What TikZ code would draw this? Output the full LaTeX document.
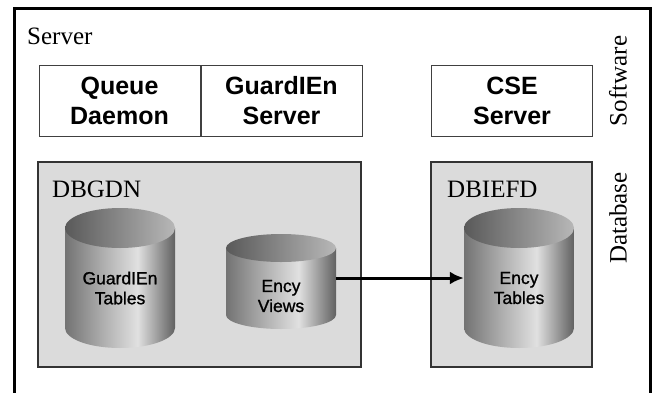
\documentclass[tikz,border=0pt]{standalone}
\usepackage{fontspec}
\setmainfont{Liberation Serif}
\setsansfont{Liberation Sans}
\usetikzlibrary{positioning,arrows.meta}

\pgfdeclarehorizontalshading{cylside}{100bp}{color(0bp)=(black!55); color(25bp)=(black!55); color(42bp)=(black!32); color(58bp)=(black!12); color(75bp)=(black!62); color(100bp)=(black!62)}
\pgfdeclarehorizontalshading{cyltop}{100bp}{color(0bp)=(black!65); color(25bp)=(black!65); color(75bp)=(black!28); color(100bp)=(black!28)}

\tikzset{
    frame/.style = {draw=black, line width=3pt},
    swbox/.style = {rectangle, draw=black!75, line width=1pt, fill=white, minimum width=161pt, minimum height=71pt, inner sep=0pt, align=center, font=\fontsize{25}{30}\sffamily\bfseries},
    dbbox/.style = {rectangle, draw=black!80, line width=1.5pt, fill=black!14, minimum height=205pt, inner sep=0pt},
    dbname/.style = {inner sep=0pt, font=\fontsize{25}{25}\selectfont},
    side/.style = {inner sep=0pt, rotate=90, font=\fontsize{25}{25}\selectfont},
    cylspan/.style = {rectangle, minimum width=110pt, inner sep=0pt},
    cyllabel/.style = {inner sep=0pt, align=center, font=\fontsize{17.5}{20}\sffamily\addfontfeatures{FakeBold=1}},
    arrow/.style = {-{Latex[length=14pt,width=13pt]}, line width=3pt}
}

% name, x, top of body, bottom of body, radius, text, text y
\newcommand{\dbcyl}[7]{
    \shade[shading=cylside] (#2-55,#3) -- (#2-55,#4) arc[start angle=180, end angle=0, x radius=55, y radius=#5] -- (#2+55,#3) -- cycle;
    \shade[shading=cyltop] (#2,#3) ellipse[x radius=55, y radius=#5];
    \node[cylspan, minimum height=#4-#3+2*#5] (#1) at (#2,{(#3+#4)/2}) {};
    \node[cyllabel] (#1_label) at (#2,#7) {#6};
}

\begin{document}
\begin{tikzpicture}[x=1pt, y=-1pt]
    \useasboundingbox (0,0) rectangle (656,392);

    % Frame
    \draw[frame] (14,394) -- (14,8) -- (650,8) -- (650,394);
    \node[inner sep=0pt, anchor=west, font=\fontsize{25}{25}\selectfont] (server) at (27,36) {Server};
    \node[side] (software) at (618,81) {Software};
    \node[side] (database) at (618,218) {Database};

    % Software
    \node[swbox] (queue) at (119.5,100.5) {Queue\\Daemon};
    \node[swbox, right=0pt of queue] (guardien) {GuardIEn\\Server};
    \node[swbox] (cse) at (512,100.5) {CSE\\Server};

    % Databases
    \node[dbbox, minimum width=323pt] (dbgdn) at (199.5,264.5) {};
    \node[dbbox, minimum width=161pt] (dbiefd) at (511.5,264.5) {};
    \node[dbname, anchor=west] (dbgdn_name) at (52,189) {DBGDN};
    \node[dbname, anchor=west] (dbiefd_name) at (447,189) {DBIEFD};

    % Cylinders
    \dbcyl{tables}{120}{228}{328}{20}{GuardIEn\\Tables}{288}
    \dbcyl{views}{281}{248}{315}{14}{Ency\\Views}{296}
    \dbcyl{ency}{519}{228}{328}{20}{Ency\\Tables}{288}

    % Arrows
    \draw[arrow] (views.east |- ency.west) -- (ency.west);
\end{tikzpicture}
\end{document}
